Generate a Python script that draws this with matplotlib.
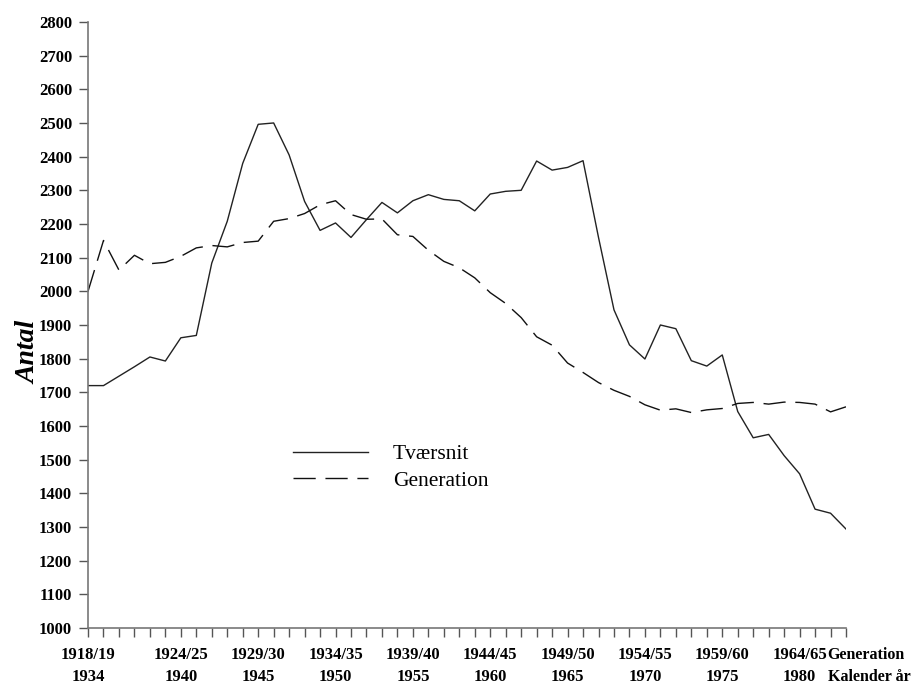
import numpy as np
import matplotlib
matplotlib.use('Agg')
from matplotlib import pyplot as plt

# calendar years on the x axis, one point per year
years = list(range(1934, 1984))

tvaersnit = [1720, 1720, 1748, 1776, 1805, 1793, 1862, 1869, 2084, 2208,
             2380, 2496, 2500, 2405, 2267, 2181, 2203, 2160, 2213, 2264,
             2233, 2269, 2287, 2273, 2269, 2239, 2289, 2297, 2300, 2387,
             2360, 2368, 2388, 2160, 1945, 1841, 1799, 1900, 1889, 1794,
             1778, 1811, 1643, 1565, 1575, 1512, 1458, 1353, 1341, 1294]

generation = [2000, 2151, 2063, 2107, 2082, 2086, 2104, 2129, 2136, 2132,
              2145, 2149, 2208, 2216, 2231, 2257, 2269, 2228, 2214, 2215,
              2168, 2163, 2122, 2089, 2070, 2040, 1996, 1964, 1922, 1865,
              1840, 1787, 1759, 1729, 1706, 1688, 1663, 1647, 1651, 1640,
              1648, 1652, 1667, 1670, 1665, 1671, 1670, 1665, 1642, 1657]

label_years = [1934, 1940, 1945, 1950, 1955, 1960, 1965, 1970, 1975, 1980]
label_gens = ['1918/19', '1924/25', '1929/30', '1934/35', '1939/40',
              '1944/45', '1949/50', '1954/55', '1959/60', '1964/65']

plt.rcParams['font.family'] = ['Liberation Serif', 'DejaVu Serif']

fig = plt.figure(figsize=(9.16, 6.86), dpi=100)
ax = fig.add_axes([0.0961, 0.0845, 0.8275, 0.8835])

ax.plot(years, tvaersnit, color='#222222', lw=1.0, label='Tværsnit')
ax.plot(years, generation, color='#111111', lw=1.0, dashes=(16, 7),
        label='Generation')

ax.set_xlim(1934, 1983)
ax.set_ylim(1000, 2800)
ax.set_yticks(np.arange(1000, 2801, 100))
ax.set_xticks(years)
ax.set_xticklabels(['%s\n%d' % (label_gens[label_years.index(y)], y)
                    if y in label_years else '' for y in years])

for s in ['top', 'right']:
    ax.spines[s].set_visible(False)
for s in ['left', 'bottom']:
    ax.spines[s].set_color('#777777')
    ax.spines[s].set_linewidth(1.2)

ax.tick_params(axis='both', direction='out', length=6.5, width=1.0,
               color='#555555')
ax.tick_params(axis='x', pad=7, labelsize=12)
ax.tick_params(axis='y', pad=5, labelsize=12)
for t in ax.get_xticklabels():
    t.set_fontweight('bold')
    t.set_linespacing(1.55)
for t in ax.get_yticklabels():
    t.set_fontweight('bold')

ax.set_ylabel('Antal', fontsize=20, fontweight='bold', style='italic')
ax.yaxis.set_label_coords(-0.062, 0.455)

fig.text(0.9035, 0.057, 'Generation\nKalender år', ha='left', va='top',
         fontsize=11.5, fontweight='bold', linespacing=1.5)

leg = ax.legend(loc='upper left', bbox_to_anchor=(0.27, 0.303),
                frameon=False, fontsize=15.5, handlelength=3.5,
                handletextpad=1.15, labelspacing=0.3, borderpad=0,
                borderaxespad=0)

plt.savefig('out.png', dpi=100)
plt.close()
